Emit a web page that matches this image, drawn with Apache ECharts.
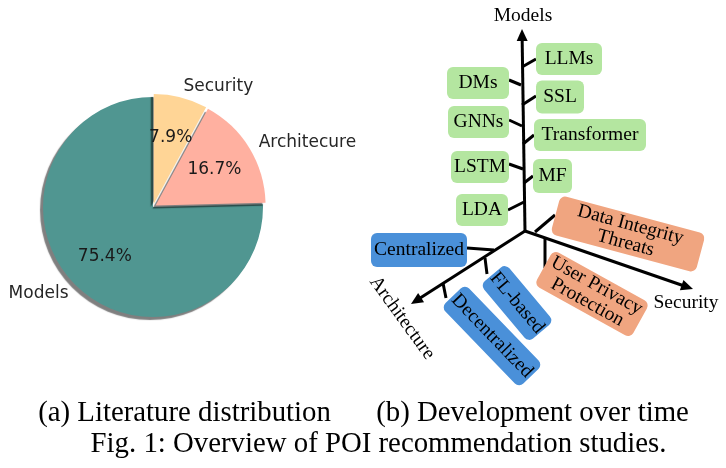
<!DOCTYPE html>
<html><head><meta charset="utf-8">
<script src="https://cdn.jsdelivr.net/npm/echarts@6/dist/echarts.min.js"></script>
<style>html,body{margin:0;padding:0;background:#fff}#c{width:726px;height:468px}</style>
</head><body><div id="c"></div>
<script>
// ---------- data ----------
const pieCategories = ['Models', 'Architecure', 'Security'];
const pieValues = [75.4, 16.7, 7.9];
const explodedSlices = ['Architecure', 'Security'];
const axisNames = ['Models', 'Architecture', 'Security'];
const modelMethods = ['LLMs', 'DMs', 'SSL', 'GNNs', 'Transformer', 'LSTM', 'MF', 'LDA'];
const architectureMethods = ['Centralized', 'FL-based', 'Decentralized'];
const securityMethods = ['Data Integrity\nThreats', 'User Privacy\nProtection'];
const captionA = '(a) Literature distribution';
const captionB = '(b) Development over time';
const figCaption = 'Fig. 1: Overview of POI recommendation studies.';

// ---------- layout (hidden 1:1 cartesian grid) ----------
const origin = [525, 231];
const axisTips = [[522, 29], [411, 304], [693, 289]];
const axisLabelPos = [[523, 16, 0], [402, 318, 54], [686, 303, 0]];
// [cx, cy, w, h, rotDeg(clockwise), tx1, ty1, tx2, ty2]
const boxLayout = {
  'LLMs': [569, 59, 66, 32, 0, 522, 67, 536, 59],
  'DMs': [478, 83, 62, 32, 0, 509, 80, 521, 85],
  'SSL': [560, 97, 48, 33, 0, 522, 105, 536, 96],
  'GNNs': [478.5, 122, 61, 32, 0, 509, 120, 522, 126],
  'Transformer': [590, 135, 112, 32, 0, 523, 144, 534, 135],
  'LSTM': [480, 167, 58, 32, 0, 509, 164, 523, 169],
  'MF': [552.5, 176, 39, 34, 0, 524, 183, 533, 176],
  'LDA': [482, 210, 52, 32, 0, 508, 210, 524, 202],
  'Centralized': [419, 250, 96, 34, 0, 467, 248, 494, 250],
  'FL-based': [517, 303, 75, 33, 50, 485, 258, 487, 274],
  'Decentralized': [492, 336, 112, 33, 46, 443, 283, 446, 298],
  'Data Integrity\nThreats': [628, 234, 150, 40, 15, 535, 232, 555, 215],
  'User Privacy\nProtection': [592, 294, 110, 40, 29, 545, 237, 545, 268]
};
const groupColors = ['#b4e6a0', '#4a90d9', '#f0a580'];
const pieColors = ['#509691', '#ffb0a0', '#ffd596'];

const allMethods = [];
[modelMethods, architectureMethods, securityMethods].forEach((arr, g) => arr.forEach(n => allMethods.push({ name: n, group: g })));

const chart = echarts.init(document.getElementById('c'), null, { renderer: 'canvas' });

const pieData = pieCategories.map((n, i) => ({
  name: n, value: pieValues[i], selected: explodedSlices.indexOf(n) >= 0,
  itemStyle: { color: pieColors[i] }
}));
const pieDataTransparent = pieCategories.map((n, i) => ({
  name: n, value: pieValues[i], selected: explodedSlices.indexOf(n) >= 0,
  itemStyle: { color: 'rgba(0,0,0,0)' }
}));

const serif = '"Liberation Serif", "Times New Roman", serif';

chart.setOption({
  animation: false,
  grid: { left: 0, right: 0, top: 0, bottom: 0 },
  xAxis: { type: 'value', min: 0, max: 726, show: false },
  yAxis: { type: 'value', min: 0, max: 468, inverse: true, show: false },
  series: [
    {
      type: 'pie', center: [153, 207], radius: [0, 110], startAngle: 90, clockwise: false,
      selectedMode: 'multiple', selectedOffset: 3, avoidLabelOverlap: false, silent: true,
      data: pieData,
      itemStyle: { borderWidth: 0, shadowColor: 'rgba(0,0,0,0.5)', shadowOffsetX: -3, shadowOffsetY: 3, shadowBlur: 1 },
      label: { show: true, position: 'outside', formatter: '{b}', fontFamily: '"DejaVu Sans"', fontSize: 17, color: '#262626', distanceToLabelLine: 0 },
      labelLine: { show: false, length: 11, length2: 0 },
      emphasis: { disabled: true }
    },
    {
      type: 'pie', center: [153, 207], radius: [0, 132], startAngle: 90, clockwise: false,
      selectedMode: 'multiple', selectedOffset: 3, avoidLabelOverlap: false, silent: true,
      data: pieDataTransparent,
      itemStyle: { borderWidth: 0 },
      label: { show: true, position: 'inside', formatter: p => p.value.toFixed(1) + '%', fontFamily: '"DejaVu Sans"', fontSize: 17, color: '#1a1a1a' },
      labelLine: { show: false },
      emphasis: { disabled: true }
    },
    {
      // axes with arrowheads
      type: 'custom', coordinateSystem: 'cartesian2d', silent: true, z: 3,
      data: axisTips.map(t => [t[0], t[1]]),
      renderItem: (params, api) => {
        const i = params.dataIndex;
        const o = api.coord(origin);
        const t = api.coord([api.value(0), api.value(1)]);
        const dx = t[0] - o[0], dy = t[1] - o[1];
        const L = Math.sqrt(dx * dx + dy * dy);
        const ux = dx / L, uy = dy / L, px = -uy, py = ux;
        const aL = 12, aW = 5.5;
        const bx = t[0] - ux * aL, by = t[1] - uy * aL;
        const lp = api.coord([axisLabelPos[i][0], axisLabelPos[i][1]]);
        return {
          type: 'group', children: [
            { type: 'line', shape: { x1: o[0], y1: o[1], x2: bx + ux * 2, y2: by + uy * 2 }, style: { stroke: '#000', lineWidth: 3 } },
            { type: 'polygon', shape: { points: [[t[0], t[1]], [bx + px * aW, by + py * aW], [bx - px * aW, by - py * aW]] }, style: { fill: '#000' } },
            { type: 'text', x: lp[0], y: lp[1], rotation: -axisLabelPos[i][2] * Math.PI / 180,
              style: { text: axisNames[i], align: 'center', verticalAlign: 'middle', fontFamily: serif, fontSize: 19.5, fill: '#000' } }
          ]
        };
      }
    },
    {
      // ticks
      type: 'custom', coordinateSystem: 'cartesian2d', silent: true, z: 3,
      data: allMethods.map(m => [boxLayout[m.name][5], boxLayout[m.name][6]]),
      renderItem: (params, api) => {
        const lay = boxLayout[allMethods[params.dataIndex].name];
        const a = api.coord([lay[5], lay[6]]), b = api.coord([lay[7], lay[8]]);
        return { type: 'line', shape: { x1: a[0], y1: a[1], x2: b[0], y2: b[1] }, style: { stroke: '#000', lineWidth: 3 } };
      }
    },
    {
      // boxes
      type: 'custom', coordinateSystem: 'cartesian2d', silent: true, z: 4,
      data: allMethods.map(m => [boxLayout[m.name][0], boxLayout[m.name][1]]),
      renderItem: (params, api) => {
        const m = allMethods[params.dataIndex];
        const lay = boxLayout[m.name];
        const c = api.coord([api.value(0), api.value(1)]);
        const w = lay[2], h = lay[3];
        return {
          type: 'group', x: c[0], y: c[1], rotation: -lay[4] * Math.PI / 180,
          children: [
            { type: 'rect', shape: { x: -w / 2, y: -h / 2, width: w, height: h, r: 6 }, style: { fill: groupColors[m.group] } },
            { type: 'text', style: { text: m.name, x: 0, y: 0, align: 'center', verticalAlign: 'middle', fontFamily: serif, fontSize: 19.5, lineHeight: 19, fill: '#000' } }
          ]
        };
      }
    }
  ],
  graphic: [
    { type: 'text', x: 184.5, y: 413, style: { text: captionA, align: 'center', verticalAlign: 'middle', fontFamily: serif, fontSize: 28.8, fill: '#000' } },
    { type: 'text', x: 532.5, y: 413, style: { text: captionB, align: 'center', verticalAlign: 'middle', fontFamily: serif, fontSize: 28.8, fill: '#000' } },
    { type: 'text', x: 378.5, y: 444, style: { text: figCaption, align: 'center', verticalAlign: 'middle', fontFamily: serif, fontSize: 28.8, fill: '#000' } }
  ]
});
</script></body></html>
